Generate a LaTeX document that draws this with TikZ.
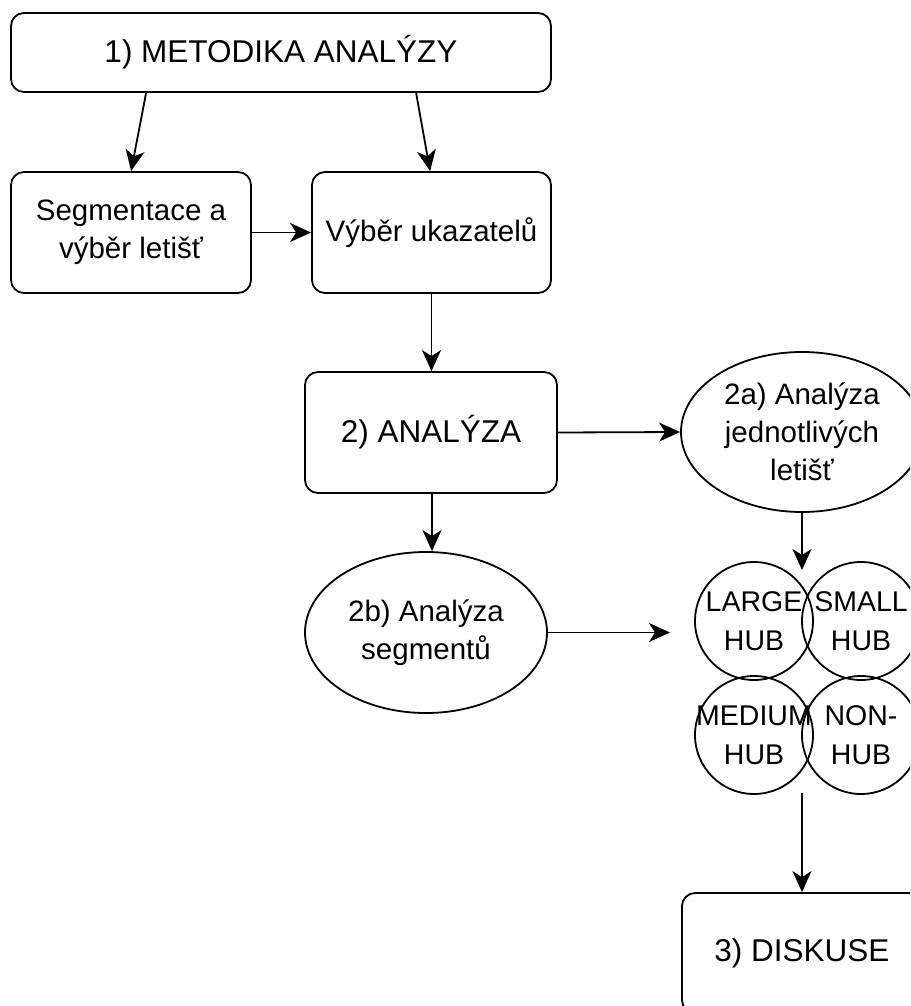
\documentclass[tikz,border=0pt]{standalone}
\usepackage{fontspec}
\setmainfont{Liberation Sans}
\usetikzlibrary{arrows.meta,shapes.geometric}
\tikzset{
  base/.style={draw=black, line width=1.8pt, align=center, text=black,
    font=\fontsize{29.5}{38}\selectfont},
  titlefont/.style={font=\fontsize{31.5}{38}\selectfont},
  roundbox/.style={base, rectangle, rounded corners=13pt, inner sep=0pt},
  oval/.style={base, ellipse, inner sep=0pt},
  hubcircle/.style={draw=black, line width=1.8pt, circle, inner sep=0pt, minimum size=118pt},
  hubtext/.style={align=center, text=black, inner sep=0pt, font=\fontsize{28.5}{39}\selectfont},
  arr/.style={draw=black, line width=1.8pt, -{Stealth[length=21pt,width=19pt,inset=6pt]}}
}
\begin{document}
\begin{tikzpicture}[x=1pt,y=-1pt]
\useasboundingbox (0,0) rectangle (910,1006);
\clip (0,0) rectangle (910,1006);

\node[roundbox, titlefont, minimum width=540pt, minimum height=79pt] (m1) at (281,52.5) {1) METODIKA ANALÝZY};
\node[roundbox, minimum width=240pt, minimum height=121pt] (seg) at (131,232.5) {Segmentace a\\výběr letišť};
\node[roundbox, minimum width=239pt, minimum height=121pt] (vyb) at (431.5,232.5) {Výběr ukazatelů};
\node[roundbox, titlefont, minimum width=252pt, minimum height=121pt] (an) at (431,432.5) {2) ANALÝZA};
\node[oval, minimum width=242pt, minimum height=160pt] (a2) at (802,432) {2a) Analýza\\jednotlivých\\letišť};
\node[oval, minimum width=242pt, minimum height=161pt] (b2) at (426,632.5) {2b) Analýza\\segmentů};

\node[hubcircle] (lg) at (754,621) {};
\node[hubcircle] (sm) at (861,621) {};
\node[hubcircle] (md) at (754,735) {};
\node[hubcircle] (nh) at (861,735) {};
\node[hubtext] (lgt) at (lg) {LARGE\\HUB};
\node[hubtext] (smt) at (sm) {SMALL\\HUB};
\node[hubtext] (mdt) at (md) {MEDIUM\\HUB};
\node[hubtext] (nht) at (nh) {NON-\\HUB};

\node[roundbox, titlefont, minimum width=240pt, minimum height=120pt] (dis) at (802,953) {3) DISKUSE};

\coordinate (hubin) at (802,570);
\coordinate (hubleft) at (670,632.5);
\coordinate (hubout) at (802,793);

\draw[arr] ([xshift=136pt]m1.south west) -- ([xshift=121pt]seg.north west);
\draw[arr] ([xshift=406pt]m1.south west) -- ([xshift=119pt]vyb.north west);
\draw[arr] (seg.east) -- (vyb.west);
\draw[arr] (vyb.south) -- (vyb.south |- an.north);
\draw[arr] (an.east) -- (a2.west);
\draw[arr] ([xshift=1pt]an.south) -- ([xshift=1pt]an.south |- b2.north);
\draw[arr] (a2.south) -- (hubin);
\draw[arr] (b2.east) -- (hubleft);
\draw[arr] (hubout) -- (dis.north);
\end{tikzpicture}
\end{document}
